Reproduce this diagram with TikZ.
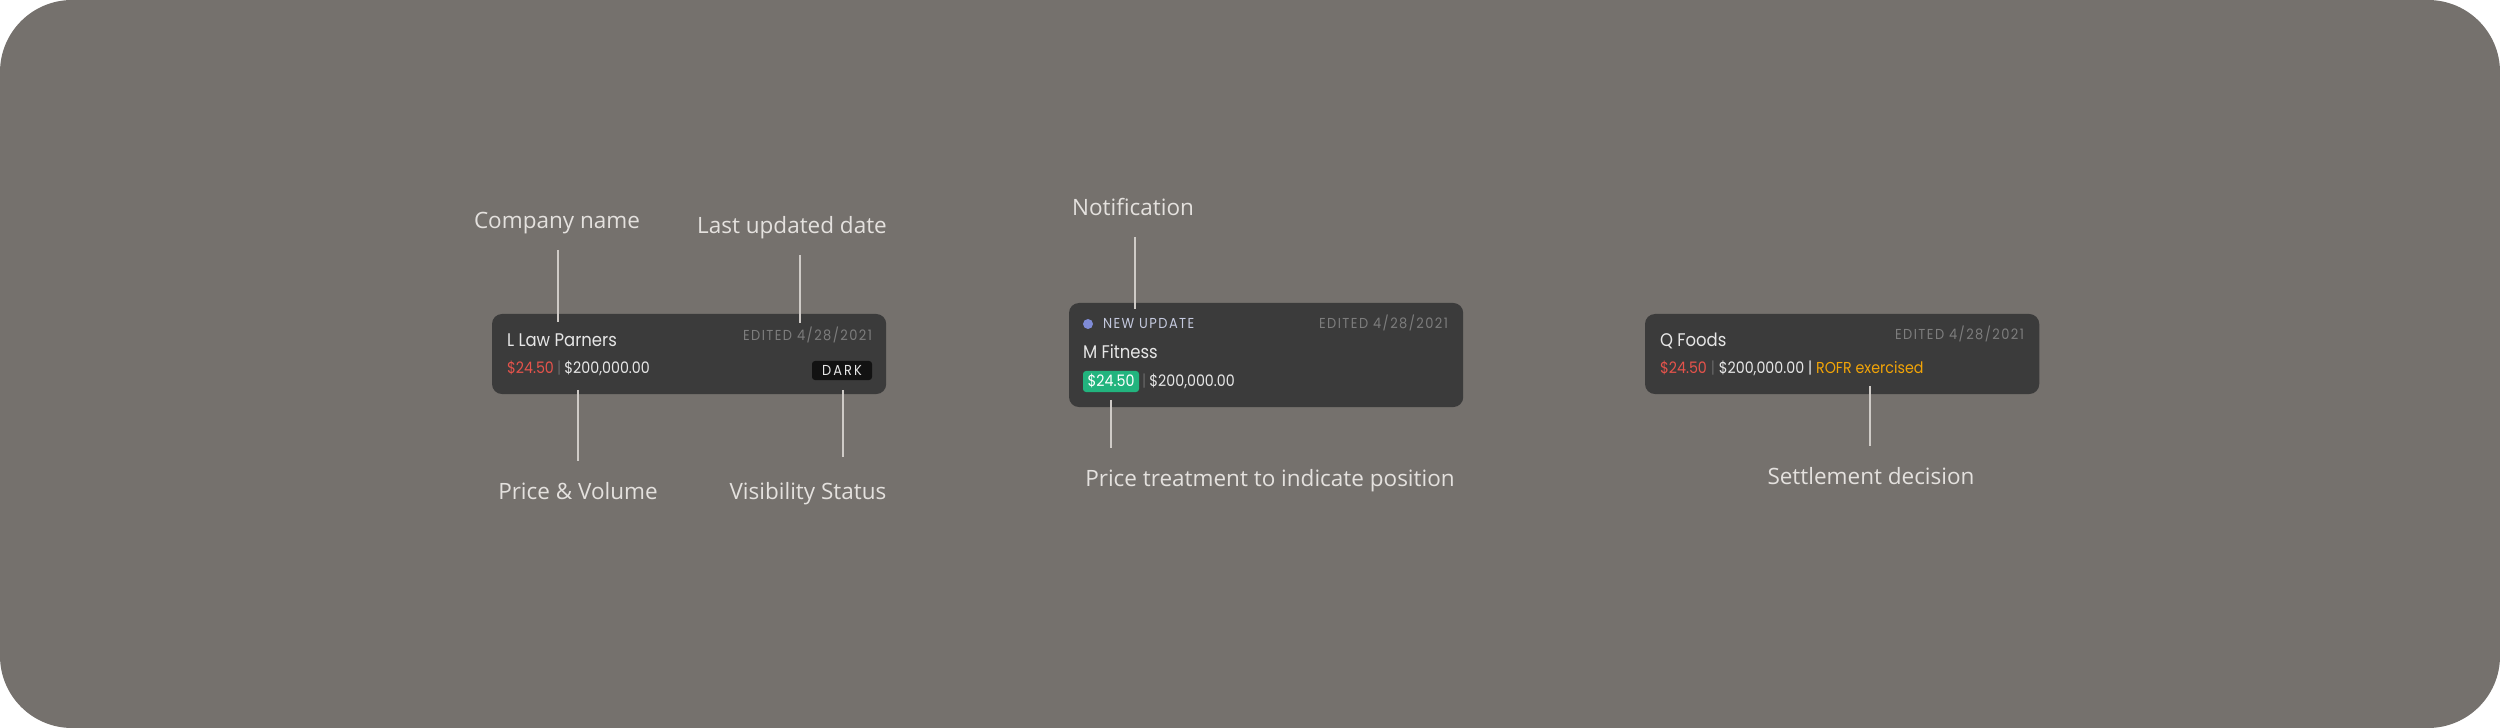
\documentclass[tikz,border=0pt]{standalone}
\usepackage{fontspec}
\setmainfont{Open Sans}
\newfontfamily\cardfont[FakeStretch=0.9]{Poppins}
\definecolor{bgc}{HTML}{75716D}
\definecolor{cardc}{HTML}{3B3B3B}
\definecolor{lblc}{HTML}{E4E1DE}
\definecolor{linec}{HTML}{CFCBC7}
\definecolor{namec}{HTML}{E6E6E6}
\definecolor{editc}{HTML}{7D7D7D}
\definecolor{redc}{HTML}{E5534B}
\definecolor{sepc}{HTML}{666666}
\definecolor{darkc}{HTML}{121212}
\definecolor{dotc}{HTML}{7F8BD6}
\definecolor{newc}{HTML}{C5CADF}
\definecolor{greenc}{HTML}{22B47E}
\definecolor{orangec}{HTML}{F2A407}
\newcommand\lblfont{\fontsize{6.4}{7.5}\selectfont}
\newcommand\namefont{\cardfont\fontsize{5.2}{6}\selectfont}
\newcommand\rowfont{\cardfont\fontsize{4.5}{5}\selectfont}
\newcommand\editfont{\cardfont\fontsize{4.1}{5}\selectfont\addfontfeature{LetterSpace=10}}
\tikzset{
  lbl/.style={inner sep=0pt, outer sep=0pt, text=lblc, font=\lblfont, anchor=base},
  card/.style={fill=cardc, rounded corners=0.1cm, inner sep=0pt, outer sep=0pt, anchor=north west},
  cardtxt/.style={inner sep=0pt, outer sep=0pt, text=namec},
  conn/.style={draw=linec, line width=0.45pt},
  badge/.style={rounded corners=0.03cm, inner sep=0pt, outer sep=0pt, anchor=north west, text height=0.1cm, text depth=0pt}
}
\begin{document}
\begin{tikzpicture}[x=0.01cm,y=-0.01cm]
\useasboundingbox (0,0) rectangle (2500,728);
\fill[bgc, rounded corners=0.72cm] (0,0) rectangle (2500,728);

% ---------- Card 1 ----------
\node[card, minimum width=3.94cm, minimum height=0.8cm] (c1) at (492,314) {};
\node[cardtxt, anchor=base west, font=\namefont] (c1name) at (507,347) {L Law Parners};
\node[cardtxt, anchor=base east, font=\editfont, text=editc] (c1edit) at (872,341) {EDITED 4/28/2021};
\node[cardtxt, anchor=base west, font=\rowfont] (c1row) at (507,374)
  {\textcolor{redc}{\$24.50}\hspace{0.9pt}\textcolor{sepc}{|}\hspace{0.9pt}\$200,000.00};
\node[badge, fill=darkc, minimum width=0.6cm, minimum height=0.19cm, text=namec,
  font={\cardfont\fontsize{4.1}{5}\selectfont\addfontfeature{LetterSpace=14}}] (c1dark) at (812,361) {DARK};

\node[lbl] (lcomp) at (557,229) {Company name};
\node[lbl] (llast) at (792,234) {Last updated date};
\node[lbl] (lprice) at (578,500) {Price \& Volume};
\node[lbl] (lvis) at (808,500) {Visibility Status};

\coordinate (a1t) at (558,250); \coordinate (a1b) at (558,322);
\coordinate (a2t) at (800,255); \coordinate (a2b) at (800,323);
\coordinate (a3t) at (578,390); \coordinate (a3b) at (578,461);
\coordinate (a4t) at (843,390); \coordinate (a4b) at (843,457);
\draw[conn] (a1t) -- (a1b);
\draw[conn] (a2t) -- (a2b);
\draw[conn] (a3t) -- (a3b);
\draw[conn] (a4t) -- (a4b);

% ---------- Card 2 ----------
\node[card, minimum width=3.94cm, minimum height=1.04cm] (c2) at (1069,303) {};
\node[circle, fill=dotc, minimum size=0.1cm, inner sep=0pt] (c2dot) at (1088,324) {};
\node[cardtxt, anchor=base west, font=\editfont, text=newc] (c2new) at (1103,329) {NEW UPDATE};
\node[cardtxt, anchor=base east, font=\editfont, text=editc] (c2edit) at (1448,329) {EDITED 4/28/2021};
\node[cardtxt, anchor=base west, font=\namefont] (c2name) at (1083,359) {M Fitness};
\node[badge, fill=greenc, minimum width=0.56cm, minimum height=0.21cm, text=white, font=\rowfont] (c2badge) at (1083,371) {\$24.50};
\node[cardtxt, anchor=base west, font=\rowfont] (c2row) at (1142,387)
  {\textcolor{sepc}{|}\hspace{0.9pt}\$200,000.00};

\node[lbl] (lnot) at (1133,216) {Notification};
\node[lbl] (lpt) at (1270,487) {Price treatment to indicate position};
\coordinate (b1t) at (1135,237); \coordinate (b1b) at (1135,309);
\coordinate (b2t) at (1111,400); \coordinate (b2b) at (1111,448);
\draw[conn] (b1t) -- (b1b);
\draw[conn] (b2t) -- (b2b);

% ---------- Card 3 ----------
\node[card, minimum width=3.94cm, minimum height=0.8cm] (c3) at (1645,314) {};
\node[cardtxt, anchor=base west, font=\namefont] (c3name) at (1660,347) {Q Foods};
\node[cardtxt, anchor=base east, font=\editfont, text=editc] (c3edit) at (2024,340) {EDITED 4/28/2021};
\node[cardtxt, anchor=base west, font=\rowfont] (c3row) at (1660,374)
  {\textcolor{redc}{\$24.50}\hspace{1.1pt}\textcolor{sepc}{|}\hspace{1.1pt}\$200,000.00\hspace{1.1pt}|\hspace{1.1pt}\textcolor{orangec}{ROFR exercised}};

\node[lbl] (lset) at (1871,485) {Settlement decision};
\coordinate (d1t) at (1870,386); \coordinate (d1b) at (1870,446);
\draw[conn] (d1t) -- (d1b);
\end{tikzpicture}
\end{document}
